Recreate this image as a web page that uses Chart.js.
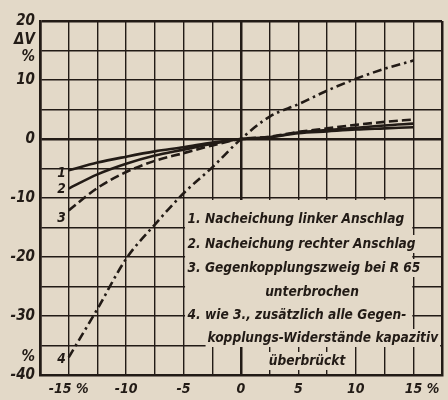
<!DOCTYPE html>
<html>
<head>
<meta charset="utf-8">
<script src="https://cdn.jsdelivr.net/npm/chart.js@4.4.1/dist/chart.umd.min.js"></script>
<style>
  html, body { margin: 0; padding: 0; background: #e3d9c8; }
  #wrap { width: 448px; height: 400px; position: relative; }
</style>
</head>
<body>
<div id="wrap"><canvas id="c" width="448" height="400"></canvas></div>
<script>
// ---- data ----
const xValues = [-15, -12.5, -10, -7.5, -5, -2.5, 0, 2.5, 5, 7.5, 10, 12.5, 15];
const curve1 = [-5.3, -4.0, -3.0, -2.1, -1.4, -0.6, 0, 0.3, 1.0, 1.3, 1.6, 1.8, 2.0];
const curve2 = [-8.4, -6.0, -4.2, -2.8, -1.8, -0.8, 0, 0.3, 1.1, 1.5, 1.9, 2.3, 2.6];
const curve3 = [-12.1, -8.3, -5.6, -3.7, -2.4, -1.1, 0, 0.4, 1.2, 1.8, 2.4, 2.9, 3.3];
const curve4 = [-37.0, -28.8, -20.3, -14.5, -9.2, -4.8, 0, 3.8, 5.9, 8.2, 10.2, 11.9, 13.3];
const curveNames = ['1', '2', '3', '4'];
const xTickLabels = { '-15': '-15 %', '-10': '-10', '-5': '-5', '0': '0', '5': '5', '10': '10', '15': '    15 %' };
const yTickLabels = { '20': '20', '10': '10', '0': '0', '-10': '-10', '-20': '-20', '-30': '-30', '-40': '-40' };
const legendLines = [
  '1. Nacheichung linker Anschlag',
  '2. Nacheichung rechter Anschlag',
  '3. Gegenkopplungszweig bei R 65',
  'unterbrochen',
  '4. wie 3., zusätzlich alle Gegen-',
  'kopplungs-Widerstände kapazitiv',
  'überbrückt'
];

const INK = '#221b16';
const BG = '#e3d9c8';
const FONT = 'DejaVu Sans Condensed, DejaVu Sans, sans-serif';

function pts(ys) { return xValues.map((x, i) => ({ x: x, y: ys[i] })); }

const bgPlugin = {
  id: 'bg',
  beforeDraw(chart) {
    const ctx = chart.ctx;
    ctx.save();
    ctx.fillStyle = BG;
    ctx.fillRect(0, 0, chart.width, chart.height);
    ctx.restore();
  }
};

const boxPlugin = {
  id: 'box',
  beforeDatasetsDraw(chart) {
    const ctx = chart.ctx;
    const xs = chart.scales.x, ys = chart.scales.y;
    const l = xs.getPixelForValue(-5) + 1.5;
    const r = xs.getPixelForValue(15) - 1;
    const t = ys.getPixelForValue(-10) + 2;
    const b = ys.getPixelForValue(-35) - 1;
    ctx.save();
    ctx.fillStyle = BG;
    ctx.fillRect(l, t, r - l, b - t);
    ctx.restore();
  },
  afterDatasetsDraw(chart) {
    const ctx = chart.ctx;
    const xs = chart.scales.x, ys = chart.scales.y;
    ctx.save();
    ctx.fillStyle = INK;
    ctx.font = 'italic bold 13.6px ' + FONT;
    ctx.textBaseline = 'middle';
    const x0 = xs.getPixelForValue(-5) + 4;
    const rows = [
      { t: legendLines[0], x: x0, y: 219, a: 'left' },
      { t: legendLines[1], x: x0, y: 244, a: 'left' },
      { t: legendLines[2], x: x0, y: 268, a: 'left' },
      { t: legendLines[3], x: 312, y: 292, a: 'center' },
      { t: legendLines[4], x: x0, y: 315, a: 'left' },
      { t: legendLines[5], x: x0 + 20, y: 338, a: 'left' },
      { t: legendLines[6], x: 307, y: 361, a: 'center' }
    ];
    rows.forEach(r => {
      ctx.textAlign = r.a;
      const w = ctx.measureText(r.t).width;
      const lx = r.a === 'center' ? r.x - w / 2 : r.x;
      ctx.fillStyle = BG;
      ctx.fillRect(lx - 2, r.y - 9, w + 4, 18);
      ctx.fillStyle = INK;
      ctx.fillText(r.t, r.x, r.y);
    });
    // curve number labels at left ends
    ctx.textAlign = 'right';
    const firsts = [curve1[0] - 0.6, curve2[0] - 0.2, curve3[0] - 1.4, curve4[0] - 0.4];
    curveNames.forEach((n, i) => {
      ctx.fillText(n, xs.getPixelForValue(-15) - 3, ys.getPixelForValue(firsts[i]));
    });
    // axis unit labels
    ctx.font = 'italic bold 15px ' + FONT;
    const ax = xs.left - 5;
    ctx.fillText('\u0394V', ax, ys.getPixelForValue(16.7));
    ctx.fillText('%', ax, ys.getPixelForValue(13.9));
    ctx.fillText('%', ax, ys.getPixelForValue(-36.9));
    ctx.restore();
  }
};

const lineCommon = {
  borderColor: INK, borderWidth: 2.6, pointRadius: 0, fill: false,
  cubicInterpolationMode: 'monotone'
};

new Chart(document.getElementById('c'), {
  type: 'line',
  data: {
    datasets: [
      Object.assign({ label: curveNames[0], data: pts(curve1) }, lineCommon),
      Object.assign({ label: curveNames[1], data: pts(curve2) }, lineCommon),
      Object.assign({ label: curveNames[2], data: pts(curve3), borderDash: [9, 4] }, lineCommon),
      Object.assign({ label: curveNames[3], data: pts(curve4), borderDash: [9, 4, 2.5, 4] }, lineCommon)
    ]
  },
  options: {
    responsive: false,
    animation: false,
    devicePixelRatio: 1,
    layout: { padding: { top: 21, right: 4, left: 0, bottom: 0 } },
    plugins: { legend: { display: false }, tooltip: { enabled: false } },
    scales: {
      x: {
        type: 'linear', min: -17.5, max: 17.5,
        afterFit(s) { s.height = 25; },
        border: { display: true, color: INK, width: 2.5 },
        grid: {
          color: INK, drawTicks: false,
          lineWidth: c => (c.tick && (c.tick.value === 0 || Math.abs(c.tick.value) === 17.5)) ? 2.5 : 1.4
        },
        ticks: {
          stepSize: 2.5, autoSkip: false, maxRotation: 0, padding: 6, color: INK,
          font: { family: FONT, style: 'italic', weight: 'bold', size: 14 },
          callback: v => (xTickLabels[String(v)] !== undefined ? xTickLabels[String(v)] : '')
        }
      },
      y: {
        type: 'linear', min: -40, max: 20,
        afterFit(s) { s.width = 40; },
        border: { display: true, color: INK, width: 2.5 },
        grid: {
          color: INK, drawTicks: false,
          lineWidth: c => (c.tick && (c.tick.value === 0 || c.tick.value === 20)) ? 2.5 : 1.4
        },
        ticks: {
          stepSize: 5, autoSkip: false, padding: 5, color: INK,
          font: { family: FONT, style: 'italic', weight: 'bold', size: 15 },
          callback: v => (yTickLabels[String(v)] !== undefined ? yTickLabels[String(v)] : '')
        }
      }
    }
  },
  plugins: [bgPlugin, boxPlugin]
});
</script>
</body>
</html>
